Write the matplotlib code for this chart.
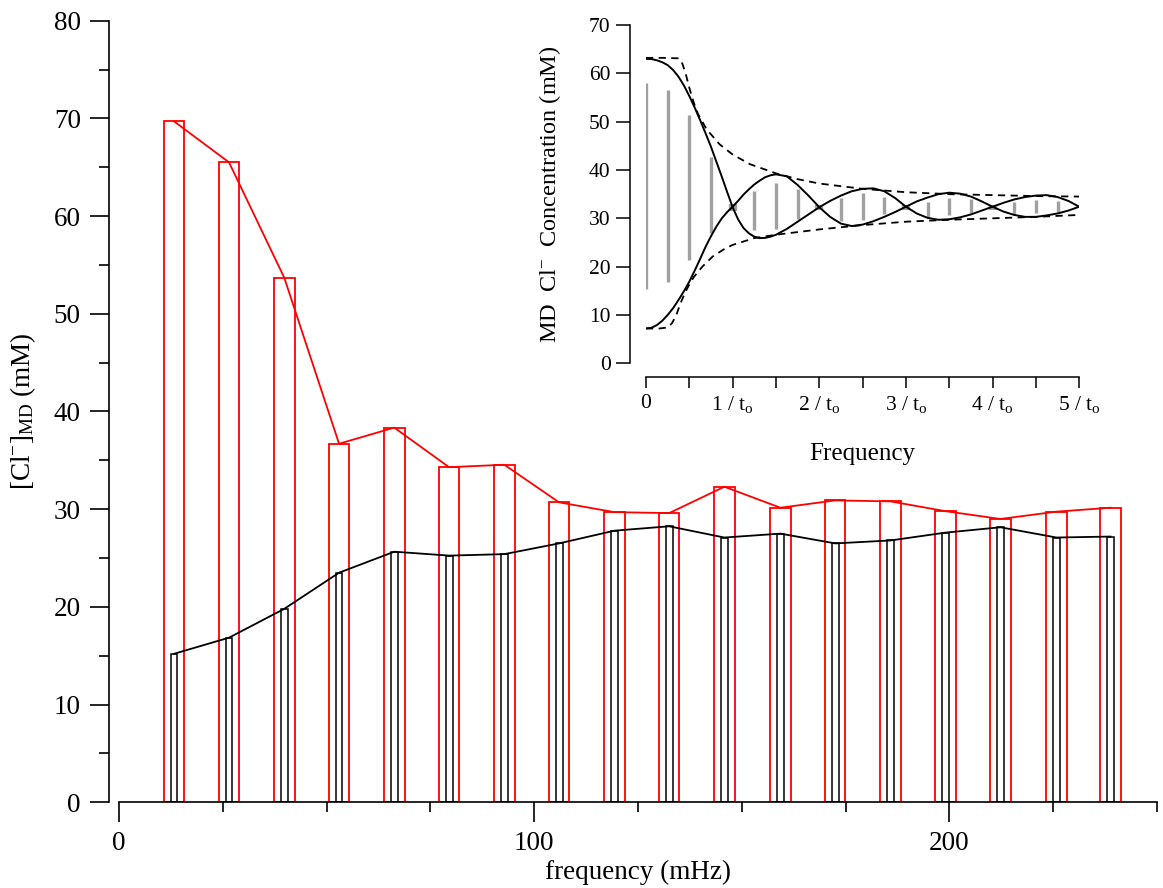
import numpy as np
import matplotlib
matplotlib.use("Agg")
import matplotlib.pyplot as plt
from matplotlib.ticker import FixedLocator, MultipleLocator

plt.rcParams['font.family'] = ['Liberation Serif', 'DejaVu Serif']
plt.rcParams['mathtext.fontset'] = 'custom'
plt.rcParams['mathtext.rm'] = 'Liberation Serif'
plt.rcParams['mathtext.it'] = 'Liberation Serif:italic'

# ---------------- main chart data ----------------
freq_mhz = [13.25, 26.5, 39.8, 53.0, 66.3, 79.5, 92.8, 106.0, 119.3,
            132.5, 145.8, 159.3, 172.5, 185.8, 199.0, 212.3, 225.8, 238.8]
cl_red = [69.7, 65.5, 53.7, 36.7, 38.35, 34.3, 34.55, 30.7, 29.7,
          29.6, 32.3, 30.15, 30.9, 30.8, 29.8, 29.0, 29.75, 30.15]
cl_black = [15.2, 16.85, 19.8, 23.5, 25.65, 25.25, 25.4, 26.5, 27.8,
            28.25, 27.1, 27.5, 26.5, 26.8, 27.6, 28.15, 27.1, 27.2]
x_major_ticks = [0, 100, 200]
x_minor_ticks = [25, 50, 75, 125, 150, 175, 225, 250]

# ---------------- inset data ----------------
inset_x = [0, 0.0625, 0.125, 0.1875, 0.25, 0.3125, 0.375, 0.4375, 0.5,
           0.5625, 0.625, 0.6875, 0.75, 0.8125, 0.875, 0.9375, 1.0,
           1.0625, 1.125, 1.1875, 1.25, 1.3125, 1.375, 1.4375, 1.5,
           1.625, 1.75, 1.875, 2.0, 2.125, 2.25, 2.375, 2.5,
           2.625, 2.75, 2.875, 3.0, 3.125, 3.25, 3.375, 3.5, 3.625, 3.75,
           3.875, 4.0, 4.125, 4.25, 4.375, 4.5, 4.625, 4.75, 4.875, 5.0]
curve_down = [63.0, 62.95, 62.7, 62.3, 61.7, 60.7, 59.3, 57.5, 55.3,
              52.9, 50.3, 47.6, 44.8, 41.7, 38.6, 35.4, 32.3,
              29.8, 28.0, 26.9, 26.2, 25.9, 25.95, 26.2, 26.6,
              27.8, 29.3, 30.8, 32.3, 33.6, 34.7, 35.6, 36.1,
              36.2, 35.6, 34.2, 32.4, 31.0, 30.1, 29.7, 29.8, 30.2, 30.8,
              31.6, 32.4, 33.2, 33.9, 34.4, 34.7, 34.8, 34.4, 33.6, 32.4]
curve_up = [7.2, 7.35, 7.9, 8.8, 10.0, 11.4, 13.1, 14.9, 16.9,
            19.2, 21.6, 24.1, 26.3, 28.3, 30.0, 31.3, 32.4,
            33.6, 34.9, 36.0, 37.0, 37.8, 38.5, 38.9, 39.1,
            38.7, 36.9, 34.7, 32.3, 30.3, 28.9, 28.4, 28.7,
            29.4, 30.3, 31.3, 32.4, 33.5, 34.3, 35.0, 35.3, 35.1, 34.5,
            33.5, 32.4, 31.4, 30.7, 30.3, 30.3, 30.6, 31.0, 31.6, 32.4]
env_x = [0, 0.2, 0.38, 0.42, 0.46, 0.5, 0.55, 0.6, 0.7, 0.85, 1.0, 1.2,
         1.5, 1.75, 2.0, 2.5, 3.0, 3.5, 4.0, 4.5, 5.0]
env_upper = [63.2, 63.2, 63.1, 62.0, 59.8, 57.0, 54.0, 51.6, 48.4, 45.3,
             43.2, 41.2, 39.3, 38.1, 37.2, 36.1, 35.4, 35.0, 34.8, 34.6, 34.5]
envl_x = [0, 0.15, 0.25, 0.3, 0.35, 0.4, 0.45, 0.5, 0.55, 0.65, 0.77, 0.9,
          1.0, 1.25, 1.5, 2.0, 2.5, 3.0, 3.5, 4.0, 4.5, 5.0]
env_lower = [7.2, 7.2, 7.4, 8.3, 10.0, 12.5, 14.6, 16.3, 17.8, 20.0, 22.1,
             23.6, 24.5, 25.9, 26.6, 27.7, 28.6, 29.3, 29.7, 30.0, 30.3, 30.7]
bar_x = [0, 0.25, 0.5, 0.75, 1.25, 1.5, 1.75, 2.25, 2.5, 2.75,
         3.25, 3.5, 3.75, 4.25, 4.5, 4.75]
bar_hi = [58.1, 56.6, 51.4, 42.6, 35.7, 37.4, 36.0, 34.1, 35.2,
          34.5, 33.4, 34.3, 33.9, 33.4, 33.8, 33.6]
bar_lo = [15.3, 16.9, 21.4, 26.9, 27.6, 27.7, 29.8, 29.4, 29.7,
          30.8, 30.3, 30.7, 31.0, 30.7, 31.0, 31.4]
block_x = [1.0, 2.0, 3.0, 4.0]
block_hi = [33.0, 32.8, 32.8, 32.8]
block_lo = [31.6, 31.8, 31.8, 31.8]
inset_xticklabels = ['0', r'1 / t$_\mathregular{o}$', r'2 / t$_\mathregular{o}$',
                     r'3 / t$_\mathregular{o}$', r'4 / t$_\mathregular{o}$',
                     r'5 / t$_\mathregular{o}$']

# ---------------- figure ----------------
fig = plt.figure(figsize=(11.63, 8.88), dpi=100)
ax = fig.add_axes([119 / 1163, 1 - 802.3 / 888, (1157 - 119) / 1163, (802.3 - 20.7) / 888])

ax.bar(freq_mhz, cl_red, width=4.95, fill=False, edgecolor='#ff0000', linewidth=1.3, zorder=2)
ax.plot(freq_mhz, cl_red, color='#ff0000', linewidth=1.3, zorder=3)
ax.bar(freq_mhz, cl_black, width=1.65, fill=False, edgecolor='black', linewidth=1.1, zorder=4)
ax.plot(freq_mhz, cl_black, color='black', linewidth=1.3, zorder=5)

ax.set_xlim(0, 250)
ax.set_ylim(0, 80)
for s in ['top', 'right']:
    ax.spines[s].set_visible(False)
ax.spines['left'].set_position(('outward', 7.5))
for s in ['left', 'bottom']:
    ax.spines[s].set_linewidth(1.2)

ax.xaxis.set_major_locator(FixedLocator(x_major_ticks))
ax.xaxis.set_minor_locator(FixedLocator(x_minor_ticks))
ax.yaxis.set_major_locator(MultipleLocator(10))
ax.yaxis.set_minor_locator(MultipleLocator(5))
ax.tick_params(axis='both', which='major', direction='out', width=1.2,
               labelsize=19.5, colors='black')
ax.tick_params(axis='y', which='major', length=14, pad=6)
ax.tick_params(axis='y', which='minor', length=7, width=1.2)
ax.tick_params(axis='x', which='major', length=14.5, pad=6)
ax.tick_params(axis='x', which='minor', length=7.2, width=1.2)

ax.set_xlabel('frequency (mHz)', fontsize=19.5, labelpad=3)
ax.set_ylabel(r'[Cl$^{-}$]$_\mathregular{MD}$ (mM)', fontsize=19.5, labelpad=11)

# ---------------- inset ----------------
ins = fig.add_axes([646 / 1163, 1 - 363.3 / 888, (1079.2 - 646) / 1163, (363.3 - 25) / 888])
ins.patch.set_alpha(0)
ins.vlines(bar_x, bar_lo, bar_hi, colors='#a0a0a0', linewidth=2.4, zorder=1)
ins.vlines(block_x, block_lo, block_hi, colors='#a0a0a0', linewidth=6, zorder=1)
ins.plot(env_x, env_upper, color='black', linewidth=1.3, linestyle=(0, (4, 3)), zorder=2)
ins.plot(envl_x, env_lower, color='black', linewidth=1.3, linestyle=(0, (4, 3)), zorder=2)
ins.plot(inset_x, curve_down, color='black', linewidth=1.4, zorder=3)
ins.plot(inset_x, curve_up, color='black', linewidth=1.4, zorder=3)

ins.set_xlim(0, 5)
ins.set_ylim(0, 70)
for s in ['top', 'right']:
    ins.spines[s].set_visible(False)
ins.spines['left'].set_position(('outward', 11.5))
ins.spines['bottom'].set_position(('outward', 10))
for s in ['left', 'bottom']:
    ins.spines[s].set_linewidth(1.1)
ins.xaxis.set_major_locator(FixedLocator([0, 1, 2, 3, 4, 5]))
ins.xaxis.set_minor_locator(FixedLocator([0.5, 1.5, 2.5, 3.5, 4.5]))
ins.set_xticklabels(inset_xticklabels)
ins.yaxis.set_major_locator(MultipleLocator(10))
ins.tick_params(axis='both', which='both', direction='out', width=1.1,
                labelsize=15.5, colors='black')
ins.tick_params(axis='y', length=10, pad=4)
ins.tick_params(axis='x', which='both', length=8, pad=4)
ins.set_xlabel('Frequency', fontsize=18, labelpad=20)
ins.set_ylabel(r'MD  Cl$^{-}$  Concentration (mM)', fontsize=17.5, labelpad=19)

fig.savefig('out.png', dpi=100)
